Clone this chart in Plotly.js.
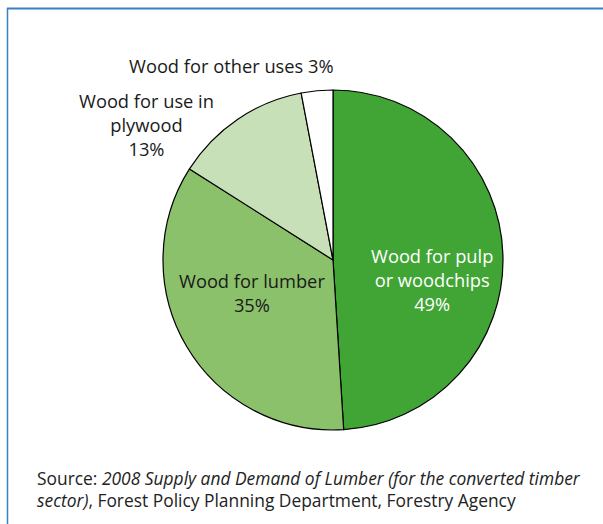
<!DOCTYPE html>
<html><head><meta charset="utf-8">
<script src="https://cdn.plot.ly/plotly-3.0.1.min.js"></script>
<style>html,body{margin:0;padding:0;background:#fff;}#chart{width:603px;height:524px;}</style>
</head><body><div id="chart"></div>
<script>
const categories = ["Wood for pulp or woodchips", "Wood for lumber", "Wood for use in plywood", "Wood for other uses"];
const shares = [49, 35, 13, 3];
const labelTexts = ["Wood for pulp<br>or woodchips<br>49%", "Wood for lumber<br>35%", "Wood for use in<br>plywood<br>13%", "Wood for other uses 3%"];
const sliceColors = ["#41a535", "#8cc16b", "#c8e0b8", "#ffffff"];
const sourceLine1 = "Source: <i>2008 Supply and Demand of Lumber (for the converted timber</i>";
const sourceLine2 = "<i>sector)</i>, Forest Policy Planning Department, Forestry Agency";

const W = 603, H = 524;
const px = (x) => x / W, py = (y) => 1 - y / H;
const labelPos = [[432, 279, "#ffffff"], [252, 292, "#1a1a1a"], [146, 124, "#1a1a1a"], [231, 66, "#1a1a1a"]];
const annotations = labelTexts.map((t, i) => ({
  text: t, x: px(labelPos[i][0]), y: py(labelPos[i][1]), xref: "paper", yref: "paper",
  xanchor: "center", yanchor: "middle", showarrow: false, align: "center",
  font: {family: "Open Sans", size: 18.3, color: labelPos[i][2]}
}));
annotations.push({text: sourceLine1, x: px(35), y: py(478), xref: "paper", yref: "paper", xanchor: "left", yanchor: "middle", showarrow: false, align: "left", font: {family: "Open Sans", size: 17.4, color: "#222"}});
annotations.push({text: sourceLine2, x: px(35), y: py(500), xref: "paper", yref: "paper", xanchor: "left", yanchor: "middle", showarrow: false, align: "left", font: {family: "Open Sans", size: 17.4, color: "#222"}});

const data = [{
  type: "pie", labels: categories, values: shares, sort: false, direction: "clockwise", rotation: 0,
  marker: {colors: sliceColors, line: {color: "#000000", width: 1.2}},
  textinfo: "none", hoverinfo: "label+percent", showlegend: false,
  domain: {x: [px(163), px(503)], y: [py(430), py(90)]}
}];
const layout = {
  width: W, height: H, margin: {l: 0, r: 0, t: 0, b: 0},
  paper_bgcolor: "#ffffff", plot_bgcolor: "#ffffff", showlegend: false,
  annotations: annotations,
  shapes: [
    {type: "line", xref: "paper", yref: "paper", x0: px(7), x1: 1.01, y0: py(8.5), y1: py(8.5), line: {color: "#3a7fc4", width: 2}},
    {type: "line", xref: "paper", yref: "paper", x0: px(7.5), x1: px(7.5), y0: py(8), y1: -0.01, line: {color: "#3a7fc4", width: 1.5}}
  ]
};
Plotly.newPlot("chart", data, layout, {staticPlot: true});
</script></body></html>
